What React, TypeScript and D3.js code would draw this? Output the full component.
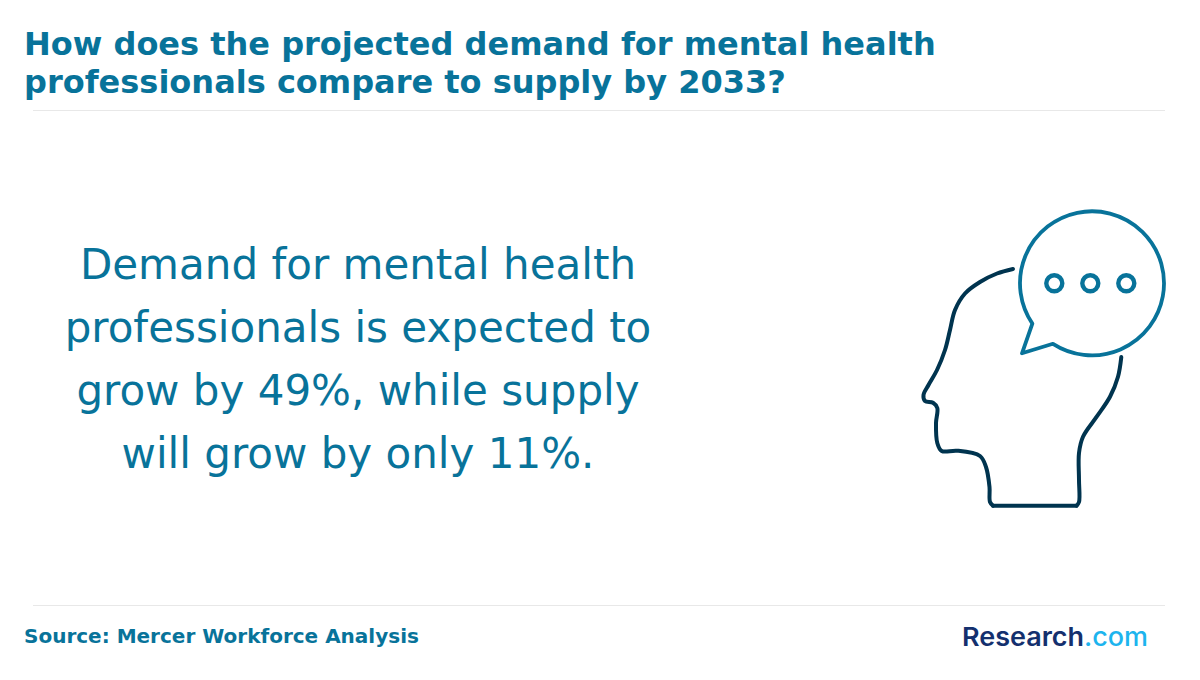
import * as d3 from 'd3';
import { useEffect } from 'react';

const titleLines = [
    'How does the projected demand for mental health',
    'professionals compare to supply by 2033?',
];
const bodyLines = [
    'Demand for mental health',
    'professionals is expected to',
    'grow by 49%, while supply',
    'will grow by only 11%.',
];
const sourceText = 'Source: Mercer Workforce Analysis';

// Icon outline
const headOutline: [number, number][] = [
    [1013, 269], [997, 273.5], [980, 282], [965, 293.5], [955, 310], [950, 330],
    [945, 350], [937, 370], [928.5, 385], [923.5, 395], [925, 401], [933, 402.7],
    [937.3, 408], [936, 423], [937.3, 443], [941.7, 451], [957, 450.7], [980, 456],
    [986, 467], [989.5, 487], [990, 502], [993, 505.7],
];
const neckOutline: [number, number][] = [
    [1076.5, 505.7], [1079, 502], [1079, 480], [1079, 453], [1083, 436.7], [1096.7, 416.7],
    [1110, 396.7], [1118, 376.7], [1121.3, 357],
];
const bubbleCentre: [number, number] = [1092, 283.3];
const bubbleRadius = 72;
const bubbleTail: [number, number][] = [[1033.3, 323], [1022, 353.3], [1053.3, 343.3]];
const bubbleDots = [1054.3, 1090.3, 1126.3];

const BLUE = '#08739a';
const NAVY = '#00344f';

export default function App() {
    useEffect(() => {
        document.body.style.margin = '0';
    }, []);

    const curve = d3.line().curve(d3.curveCatmullRom.alpha(0.5));

    const [cx, cy] = bubbleCentre;
    const [tailStart, tailTip, tailEnd] = bubbleTail;
    const bubble = d3.path();
    bubble.arc(
        cx, cy, bubbleRadius,
        Math.atan2(tailEnd[1] - cy, tailEnd[0] - cx),
        Math.atan2(tailStart[1] - cy, tailStart[0] - cx),
        true,
    );
    bubble.lineTo(tailTip[0], tailTip[1]);
    bubble.closePath();

    return (
        <svg width={1200} height={680} style={{ display: 'block', background: '#fff' }}
            fontFamily="'DejaVu Sans', sans-serif">
            {titleLines.map((t, i) => (
                <text key={t} x={24} y={55 + i * 38} fontSize={32} fontWeight="bold" fill={BLUE}>{t}</text>
            ))}
            <line x1={33} x2={1165} y1={110.5} y2={110.5} stroke="#e8e8e8" />

            {bodyLines.map((t, i) => (
                <text key={t} x={358} y={279 + i * 63} fontSize={42} textAnchor="middle" fill={BLUE}>{t}</text>
            ))}

            <g fill="none" strokeLinecap="round" strokeLinejoin="round">
                <path d={curve(headOutline) ?? ''} stroke={NAVY} strokeWidth={4} />
                <path d={curve(neckOutline) ?? ''} stroke={NAVY} strokeWidth={4} />
                <line x1={headOutline[headOutline.length - 1][0]} y1={505.7}
                    x2={neckOutline[0][0]} y2={505.7} stroke={NAVY} strokeWidth={4} />
                <path d={bubble.toString()} stroke={BLUE} strokeWidth={3.8} />
                {bubbleDots.map(x => (
                    <circle key={x} cx={x} cy={cy} r={8} stroke={BLUE} strokeWidth={4.4} />
                ))}
            </g>

            <line x1={33} x2={1165} y1={605.5} y2={605.5} stroke="#e8e8e8" />
            <text x={24} y={643} fontSize={20} fontWeight="bold" fill={BLUE}>{sourceText}</text>

            <text x={962} y={646} fontSize={26} fontFamily="Inter, sans-serif" fontWeight={600} textLength={186} lengthAdjust="spacingAndGlyphs">
                <tspan fill="#14306e">Research</tspan>
                <tspan fill="#1db4ee" fontWeight={500}>.com</tspan>
            </text>
        </svg>
    );
}
